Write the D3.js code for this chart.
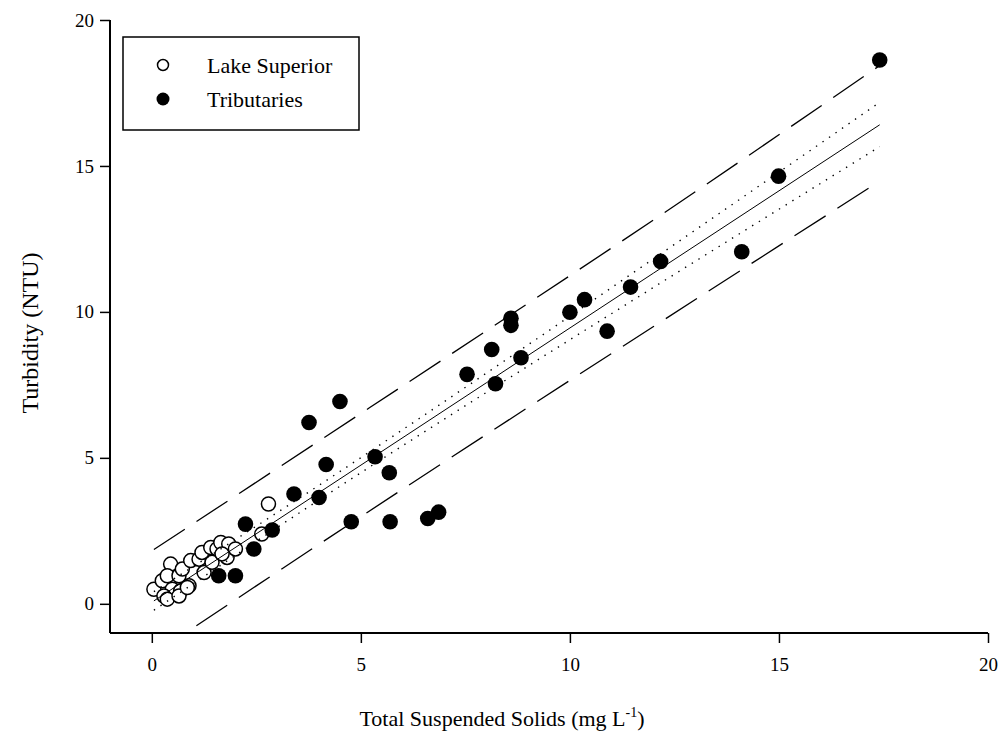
<!DOCTYPE html>
<html>
<head>
<meta charset="utf-8">
<script src="https://cdn.jsdelivr.net/npm/d3@7/dist/d3.min.js"></script>
<style>
  html, body { margin: 0; padding: 0; background: #fff; }
  svg { display: block; }
  text { font-family: "Liberation Serif", "Times New Roman", serif; fill: #000; }
</style>
</head>
<body>
<svg id="chart" width="1002" height="743"></svg>
<script>
// ---- Data ----
const lakeSuperior = [
  [0.05, 0.50], [0.25, 0.79], [0.45, 1.36], [0.37, 0.96], [0.49, 0.50],
  [0.29, 0.27], [0.65, 0.96], [0.73, 1.19], [0.89, 0.62], [0.69, 0.45],
  [0.93, 1.48], [1.13, 1.53], [1.25, 1.07], [1.20, 1.76], [1.41, 1.93],
  [1.56, 1.88], [1.65, 2.10], [1.84, 2.05], [1.80, 1.59], [2.00, 1.88],
  [1.44, 1.42], [1.68, 1.71], [2.79, 3.42], [2.63, 2.39], [0.37, 0.16],
  [0.65, 0.27], [0.85, 0.56]
];
const tributaries = [
  [17.41, 18.63], [14.99, 14.65], [14.11, 12.06], [12.17, 11.73], [11.45, 10.85],
  [10.89, 9.34], [10.00, 9.99], [10.35, 10.42], [8.59, 9.78], [8.59, 9.54],
  [8.83, 8.43], [8.13, 8.71], [8.22, 7.54], [7.54, 7.86], [5.34, 5.04],
  [5.68, 4.49], [5.70, 2.81], [4.77, 2.81], [4.50, 6.93], [3.76, 6.21],
  [4.17, 4.77], [4.00, 3.64], [3.40, 3.76], [6.60, 2.92], [6.86, 3.14],
  [2.24, 2.73], [2.88, 2.53], [2.44, 1.88], [1.60, 0.96], [2.00, 0.96]
];
// regression line and bands, read at a few x positions
const bandX      = [0.05, 4, 8, 12, 17.41];
const fitY       = [0.10, 3.81, 7.57, 11.33, 16.41];
const confUpper  = [0.42, 4.06, 7.90, 11.82, 17.18];
const confLower  = [-0.22, 3.56, 7.24, 10.84, 15.66];
const predUpper  = [1.86, 5.58, 9.35, 13.15, 18.44];
const predLower  = [-1.72, 2.04, 5.80, 9.50, 14.48];

const xTicks = [0, 5, 10, 15, 20];
const yTicks = [0, 5, 10, 15, 20];
const legendLabels = ["Lake Superior", "Tributaries"];

// ---- Layout ----
const svg = d3.select("#chart");
const x = d3.scaleLinear().domain([-1, 20]).range([110, 988]);
const y = d3.scaleLinear().domain([-1, 20]).range([633, 20]);

svg.append("defs").append("clipPath").attr("id", "plotclip")
  .append("rect").attr("x", 110).attr("y", 20).attr("width", 880).attr("height", 613);

// axes
const xAxis = d3.axisBottom(x).tickValues(xTicks).tickSize(10).tickSizeOuter(0).tickPadding(15);
const yAxis = d3.axisLeft(y).tickValues(yTicks).tickSize(10).tickSizeOuter(0).tickPadding(6);

const gx = svg.append("g").attr("transform", "translate(0,633)").call(xAxis);
const gy = svg.append("g").attr("transform", "translate(110,0)").call(yAxis);
[gx, gy].forEach(g => {
  g.select(".domain").attr("stroke", "#000").attr("stroke-width", 2);
  g.selectAll(".tick line").attr("stroke", "#000").attr("stroke-width", 1.5);
  g.selectAll(".tick text").attr("font-family", "Liberation Serif, serif").attr("font-size", 19).attr("fill", "#000");
});
gx.select(".domain").attr("d", `M${x(-1)},0H${x(20)}`);
gy.select(".domain").attr("d", `M0,${y(-1)}V${y(20)}`);

// points
const plot = svg.append("g").attr("clip-path", "url(#plotclip)");
plot.selectAll("circle.lake").data(lakeSuperior).enter().append("circle")
  .attr("class", "lake")
  .attr("cx", d => x(d[0])).attr("cy", d => y(d[1])).attr("r", 7)
  .attr("fill", "#fff").attr("stroke", "#000").attr("stroke-width", 1.5);
plot.selectAll("circle.trib").data(tributaries).enter().append("circle")
  .attr("class", "trib")
  .attr("cx", d => x(d[0])).attr("cy", d => y(d[1])).attr("r", 7.8)
  .attr("fill", "#000");

// lines
const mk = arr => bandX.map((v, i) => [v, arr[i]]);
const line = d3.line().x(d => x(d[0])).y(d => y(d[1])).curve(d3.curveMonotoneX);
plot.append("path").attr("d", line(mk(fitY))).attr("fill", "none")
  .attr("stroke", "#000").attr("stroke-width", 1);
[confUpper, confLower].forEach(a => plot.append("path").attr("d", line(mk(a)))
  .attr("fill", "none").attr("stroke", "#000").attr("stroke-width", 1.4)
  .attr("stroke-dasharray", "1.4,6.5"));
[predUpper, predLower].forEach(a => plot.append("path").attr("d", line(mk(a)))
  .attr("fill", "none").attr("stroke", "#000").attr("stroke-width", 1.3)
  .attr("stroke-dasharray", "37,14"));

// axis titles
svg.append("text").attr("x", 502).attr("y", 726).attr("text-anchor", "middle")
  .attr("font-size", 22)
  .html('Total Suspended Solids (mg L<tspan dy="-9" font-size="14">-1</tspan><tspan dy="9">)</tspan>');
svg.append("text").attr("transform", "translate(38,333) rotate(-90)")
  .attr("text-anchor", "middle").attr("font-size", 24).text("Turbidity (NTU)");

// legend
const lg = svg.append("g");
lg.append("rect").attr("x", 123).attr("y", 37).attr("width", 236).attr("height", 93)
  .attr("fill", "#fff").attr("stroke", "#000").attr("stroke-width", 1.5);
lg.append("circle").attr("cx", 163).attr("cy", 65).attr("r", 5.5)
  .attr("fill", "#fff").attr("stroke", "#000").attr("stroke-width", 1.5);
lg.append("circle").attr("cx", 163).attr("cy", 99).attr("r", 6.5).attr("fill", "#000");
lg.append("text").attr("x", 207).attr("y", 73).attr("font-size", 22).text(legendLabels[0]);
lg.append("text").attr("x", 207).attr("y", 107).attr("font-size", 22).text(legendLabels[1]);
</script>
</body>
</html>
